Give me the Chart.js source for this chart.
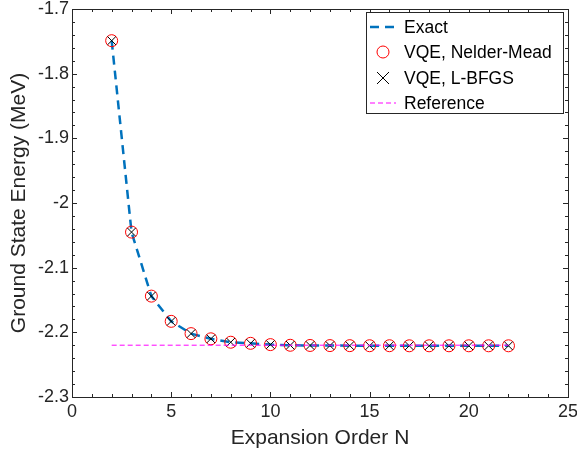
<!DOCTYPE html>
<html>
<head>
<meta charset="utf-8">
<title>Ground state energy vs expansion order</title>
<script src="https://cdn.jsdelivr.net/npm/chart.js@4.4.1/dist/chart.umd.min.js"></script>
<style>
  html, body { margin: 0; padding: 0; background: #fff; }
  canvas { display: block; }
</style>
</head>
<body>
<canvas id="energyChart" width="577" height="457"></canvas>
<script>
// values
const orderN = [2, 3, 4, 5, 6, 7, 8, 9, 10, 11, 12, 13, 14, 15, 16, 17, 18, 19, 20, 21, 22];
const exactE = [-1.749, -2.045, -2.144, -2.183, -2.202, -2.210, -2.2153, -2.217, -2.219, -2.2200, -2.2203,
  -2.2205, -2.2206, -2.2207, -2.2207, -2.2208, -2.2208, -2.2208, -2.2208, -2.2208, -2.2208];
const nelderMeadE = [-1.749, -2.045, -2.144, -2.183, -2.202, -2.210, -2.2153, -2.217, -2.219, -2.2200, -2.2203,
  -2.2205, -2.2206, -2.2207, -2.2207, -2.2208, -2.2208, -2.2208, -2.2208, -2.2208, -2.2208];
const lbfgsE = [-1.749, -2.045, -2.144, -2.183, -2.202, -2.210, -2.2153, -2.217, -2.219, -2.2200, -2.2203,
  -2.2205, -2.2206, -2.2207, -2.2207, -2.2208, -2.2208, -2.2208, -2.2208, -2.2208, -2.2208];
const refE = -2.2199;
const xTicks = [0, 5, 10, 15, 20, 25];
const yTicks = [-2.3, -2.2, -2.1, -2, -1.9, -1.8, -1.7];

const axisCol = '#262626';
Chart.defaults.font.family = "'Liberation Sans', Arial, sans-serif";
Chart.defaults.color = axisCol;

function pts(ys) {
  return orderN.map((n, i) => ({ x: n, y: ys[i] }));
}

// box round the plot plus matlab-style inward ticks, and the legend
const boxTicks = {
  id: 'boxTicks',
  afterDatasetsDraw(chart) {
    const { ctx, chartArea: a, scales: { x, y } } = chart;
    ctx.save();
    ctx.strokeStyle = axisCol;
    ctx.lineWidth = 1;
    ctx.beginPath();
    for (let v = 0; v <= 25; v += 1) {
      const px = Math.round(x.getPixelForValue(v)) + 0.5;
      const len = v % 5 === 0 ? 5 : 3;
      ctx.moveTo(px, a.bottom); ctx.lineTo(px, a.bottom - len);
      ctx.moveTo(px, a.top); ctx.lineTo(px, a.top + len);
    }
    for (let k = 0; k <= 30; k++) {
      const v = -2.3 + k * 0.02;
      const py = Math.round(y.getPixelForValue(v)) + 0.5;
      const len = k % 5 === 0 ? 5 : 3;
      ctx.moveTo(a.left, py); ctx.lineTo(a.left + len, py);
      ctx.moveTo(a.right, py); ctx.lineTo(a.right - len, py);
    }
    ctx.stroke();
    ctx.strokeRect(Math.round(a.left) + 0.5, Math.round(a.top) + 0.5,
      Math.round(a.right - a.left), Math.round(a.bottom - a.top));
    ctx.restore();
  },
  afterDraw(chart) {
    const { ctx } = chart;
    const bx = 366, by = 12, bw = 197, bh = 101;
    ctx.save();
    ctx.fillStyle = '#fff';
    ctx.fillRect(bx, by, bw, bh);
    ctx.strokeStyle = axisCol;
    ctx.lineWidth = 1;
    ctx.strokeRect(bx + 0.5, by + 0.5, bw, bh);
    const rows = [27, 52, 78, 103];
    ctx.font = "17.5px 'Liberation Sans', Arial, sans-serif";
    ctx.textBaseline = 'middle';
    chart.data.datasets.forEach((d, r) => {
      const yy = rows[r];
      const x0 = 370, x1 = 396, xc = 383;
      if (d.showLine !== false) {
        ctx.save();
        ctx.strokeStyle = d.borderColor;
        ctx.lineWidth = d.borderWidth;
        ctx.setLineDash(d.borderDash || []);
        ctx.beginPath();
        ctx.moveTo(x0, yy); ctx.lineTo(x1, yy);
        ctx.stroke();
        ctx.restore();
      } else if (d.pointStyle === 'circle') {
        ctx.strokeStyle = d.pointBorderColor;
        ctx.lineWidth = 1;
        ctx.beginPath();
        ctx.arc(xc, yy, 6, 0, Math.PI * 2);
        ctx.stroke();
      } else {
        ctx.strokeStyle = d.pointBorderColor;
        ctx.lineWidth = 1;
        ctx.beginPath();
        ctx.moveTo(xc - 6, yy - 6); ctx.lineTo(xc + 6, yy + 6);
        ctx.moveTo(xc + 6, yy - 6); ctx.lineTo(xc - 6, yy + 6);
        ctx.stroke();
      }
      ctx.fillStyle = '#000';
      ctx.fillText(d.label, 404, yy + 1);
    });
    ctx.restore();
  }
};

new Chart(document.getElementById('energyChart'), {
  type: 'scatter',
  data: {
    datasets: [
      {
        label: 'Exact',
        data: pts(exactE),
        showLine: true,
        borderColor: '#0072BD',
        borderWidth: 2.5,
        borderDash: [9, 6],
        pointRadius: 0,
        order: 3
      },
      {
        label: 'VQE, Nelder-Mead',
        data: pts(nelderMeadE),
        showLine: false,
        pointStyle: 'circle',
        pointRadius: 6,
        pointBorderColor: '#FF0000',
        pointBackgroundColor: 'rgba(0,0,0,0)',
        pointBorderWidth: 1,
        order: 2
      },
      {
        label: 'VQE, L-BFGS',
        data: pts(lbfgsE),
        showLine: false,
        pointStyle: 'crossRot',
        pointRadius: 6,
        pointBorderColor: '#000000',
        pointBorderWidth: 1,
        order: 1
      },
      {
        label: 'Reference',
        data: [{ x: orderN[0], y: refE }, { x: orderN[orderN.length - 1], y: refE }],
        showLine: true,
        borderColor: '#FF00FF',
        borderWidth: 1,
        borderDash: [5, 3],
        pointRadius: 0,
        order: 0
      }
    ]
  },
  options: {
    responsive: false,
    animation: false,
    layout: { padding: { top: 9, right: 9, left: 0, bottom: 0 } },
    plugins: { legend: { display: false }, tooltip: { enabled: false } },
    scales: {
      x: {
        type: 'linear',
        min: 0,
        max: 25,
        afterBuildTicks: s => { s.ticks = xTicks.map(v => ({ value: v })); },
        afterFit: s => { s.height = 60; s.paddingLeft = 0; s.paddingRight = 0; },
        grid: { display: false, drawTicks: false },
        border: { display: false },
        ticks: { font: { size: 18 }, padding: 4, maxRotation: 0 },
        title: { display: true, text: 'Expansion Order N', font: { size: 21 }, padding: { top: 0, bottom: 6 } }
      },
      y: {
        type: 'linear',
        min: -2.3,
        max: -1.7,
        afterBuildTicks: s => { s.ticks = yTicks.map(v => ({ value: v })); },
        afterFit: s => { s.width = 72; s.paddingTop = 0; s.paddingBottom = 0; },
        grid: { display: false, drawTicks: false },
        border: { display: false },
        ticks: { font: { size: 18 }, padding: 3, callback: v => String(+v.toFixed(1)) },
        title: { display: true, text: 'Ground State Energy (MeV)', font: { size: 21 }, padding: { top: 7, bottom: 0 } }
      }
    }
  },
  plugins: [boxTicks]
});
</script>
</body>
</html>
